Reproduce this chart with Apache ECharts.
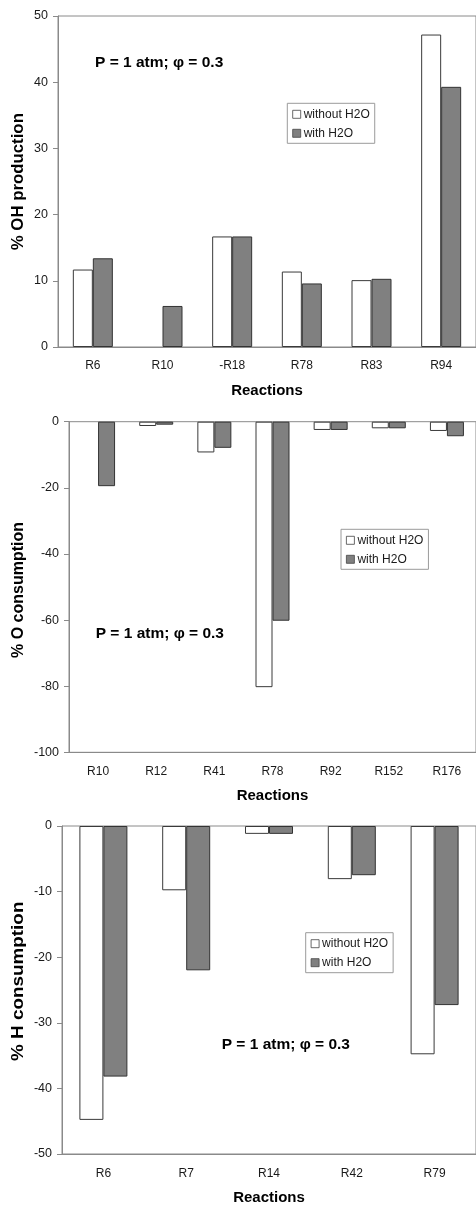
<!DOCTYPE html>
<html>
<head>
<meta charset="utf-8">
<script src="https://cdn.jsdelivr.net/npm/echarts@6/dist/echarts.min.js"></script>
<style>
  html, body { margin: 0; padding: 0; background: #fff; }
  #chart { width: 476px; height: 1206px; }
</style>
</head>
<body>
<div id="chart"></div>
<script>
// Panel 1: % OH production
const ohReactions = ['R6', 'R10', '-R18', 'R78', 'R83', 'R94'];
const ohWithout = [11.7, 0, 16.7, 11.4, 10.1, 47.2];
const ohWith = [13.4, 6.2, 16.7, 9.6, 10.3, 39.3];

// Panel 2: % O consumption
const oReactions = ['R10', 'R12', 'R41', 'R78', 'R92', 'R152', 'R176'];
const oWithout = [0, -1.3, -9.3, -80.3, -2.5, -2.0, -2.8];
const oWith = [-19.5, -0.9, -7.9, -60.2, -2.5, -2.0, -4.4];

// Panel 3: % H consumption
const hReactions = ['R6', 'R7', 'R14', 'R42', 'R79'];
const hWithout = [-44.8, -9.8, -1.2, -8.1, -34.8];
const hWith = [-38.2, -22.0, -1.2, -7.5, -27.3];

const seriesNames = ['without H2O', 'with H2O'];
const conditionText = 'P = 1 atm; \u03C6 = 0.3';
const xTitle = 'Reactions';
const yTitles = ['% OH production', '% O consumption', '% H consumption'];

const FONT = '"Liberation Sans", Arial, sans-serif';
const AXIS_GRAY = '#8a8a8a';
const TEXT = '#1a1a1a';
const WHITE_BAR = { color: '#ffffff', borderColor: '#3a3a3a', borderWidth: 1 };
const GRAY_BAR = { color: '#808080', borderColor: '#333333', borderWidth: 1 };

const grids = [
  { left: 58, top: 16, width: 420, height: 331 },
  { left: 69, top: 421.7, width: 409.5, height: 330.6 },
  { left: 62, top: 826, width: 416.3, height: 330 }
];
const barWidths = [20, 17, 24];
const xLabelMargins = [12.5, 13.2, 14];
const yRanges = [[0, 50, 10], [-100, 0, 20], [-50, 0, 10]];
const categories = [ohReactions, oReactions, hReactions];
const withoutData = [ohWithout, oWithout, hWithout];
const withData = [ohWith, oWith, hWith];

// A zero value leaves no visible bar, so drop its outline too
const barData = vals => vals.map(v => v === 0 ? { value: 0, itemStyle: { borderWidth: 0, color: 'transparent' } } : v);

const chart = echarts.init(document.getElementById('chart'), null, { renderer: 'canvas' });

const option = {
  backgroundColor: '#fff',
  animation: false,
  grid: grids.map(g => Object.assign({
    show: true, borderColor: AXIS_GRAY, borderWidth: 1, backgroundColor: 'transparent'
  }, g)),
  xAxis: categories.map((cats, i) => ({
    type: 'category',
    gridIndex: i,
    data: cats,
    position: 'bottom',
    axisLine: { show: true, onZero: false, lineStyle: { color: AXIS_GRAY, width: 1 } },
    axisTick: { show: false },
    axisLabel: { color: TEXT, fontFamily: FONT, fontSize: 12, margin: xLabelMargins[i] },
    name: xTitle,
    nameLocation: 'middle',
    nameGap: 36,
    nameTextStyle: { color: '#000', fontFamily: FONT, fontSize: 15, fontWeight: 'bold' }
  })),
  yAxis: yRanges.map((r, i) => ({
    type: 'value',
    gridIndex: i,
    min: r[0], max: r[1], interval: r[2],
    axisLine: { show: true, lineStyle: { color: AXIS_GRAY, width: 1 } },
    axisTick: { show: true, length: 5, lineStyle: { color: AXIS_GRAY } },
    axisLabel: { color: TEXT, fontFamily: FONT, fontSize: 12.5, margin: 10 },
    splitLine: { show: false }
  })),
  legend: [
    { left: 287.3, top: 103.3 },
    { left: 341, top: 529.3 },
    { left: 305.7, top: 932.7 }
  ].map(pos => Object.assign({
    orient: 'vertical',
    data: [
      { name: seriesNames[0], itemStyle: { color: '#ffffff', borderColor: '#444', borderWidth: 0.8 } },
      { name: seriesNames[1], itemStyle: { color: '#808080', borderColor: '#444', borderWidth: 0.8 } }
    ],
    selectedMode: false,
    icon: 'rect',
    itemWidth: 8, itemHeight: 8,
    itemGap: 7,
    padding: [5, 5, 4, 5],
    borderColor: '#9a9a9a', borderWidth: 1,
    backgroundColor: '#fff',
    textStyle: { color: TEXT, fontFamily: FONT, fontSize: 12, lineHeight: 12, padding: [0, 0, 0, -2] }
  }, pos)),
  series: [],
  graphic: []
};

categories.forEach((cats, i) => {
  option.series.push({
    name: seriesNames[0], type: 'bar', xAxisIndex: i, yAxisIndex: i,
    data: barData(withoutData[i]), barWidth: barWidths[i], barGap: '0%',
    itemStyle: WHITE_BAR
  });
  option.series.push({
    name: seriesNames[1], type: 'bar', xAxisIndex: i, yAxisIndex: i,
    data: barData(withData[i]), barWidth: barWidths[i], barGap: '0%',
    itemStyle: GRAY_BAR
  });
});

// Condition annotation inside each panel
[[95, 62.7], [95.7, 633.3], [221.7, 1045]].forEach(p => {
  option.graphic.push({
    type: 'text', x: p[0], y: p[1], z: 10,
    style: {
      text: conditionText, fill: '#000',
      font: 'bold 15.5px ' + FONT,
      align: 'left', verticalAlign: 'middle'
    }
  });
});

// Rotated y-axis titles
[[18.3, 181.7, 1.05], [18.3, 590, 1.0], [18.3, 981.3, 1.18]].forEach((p, i) => {
  option.graphic.push({
    type: 'text', x: p[0], y: p[1], rotation: Math.PI / 2, scaleX: p[2], z: 10,
    style: {
      text: yTitles[i], fill: '#000',
      font: 'bold 16px ' + FONT,
      align: 'center', verticalAlign: 'middle'
    }
  });
});

chart.setOption(option);
</script>
</body>
</html>
